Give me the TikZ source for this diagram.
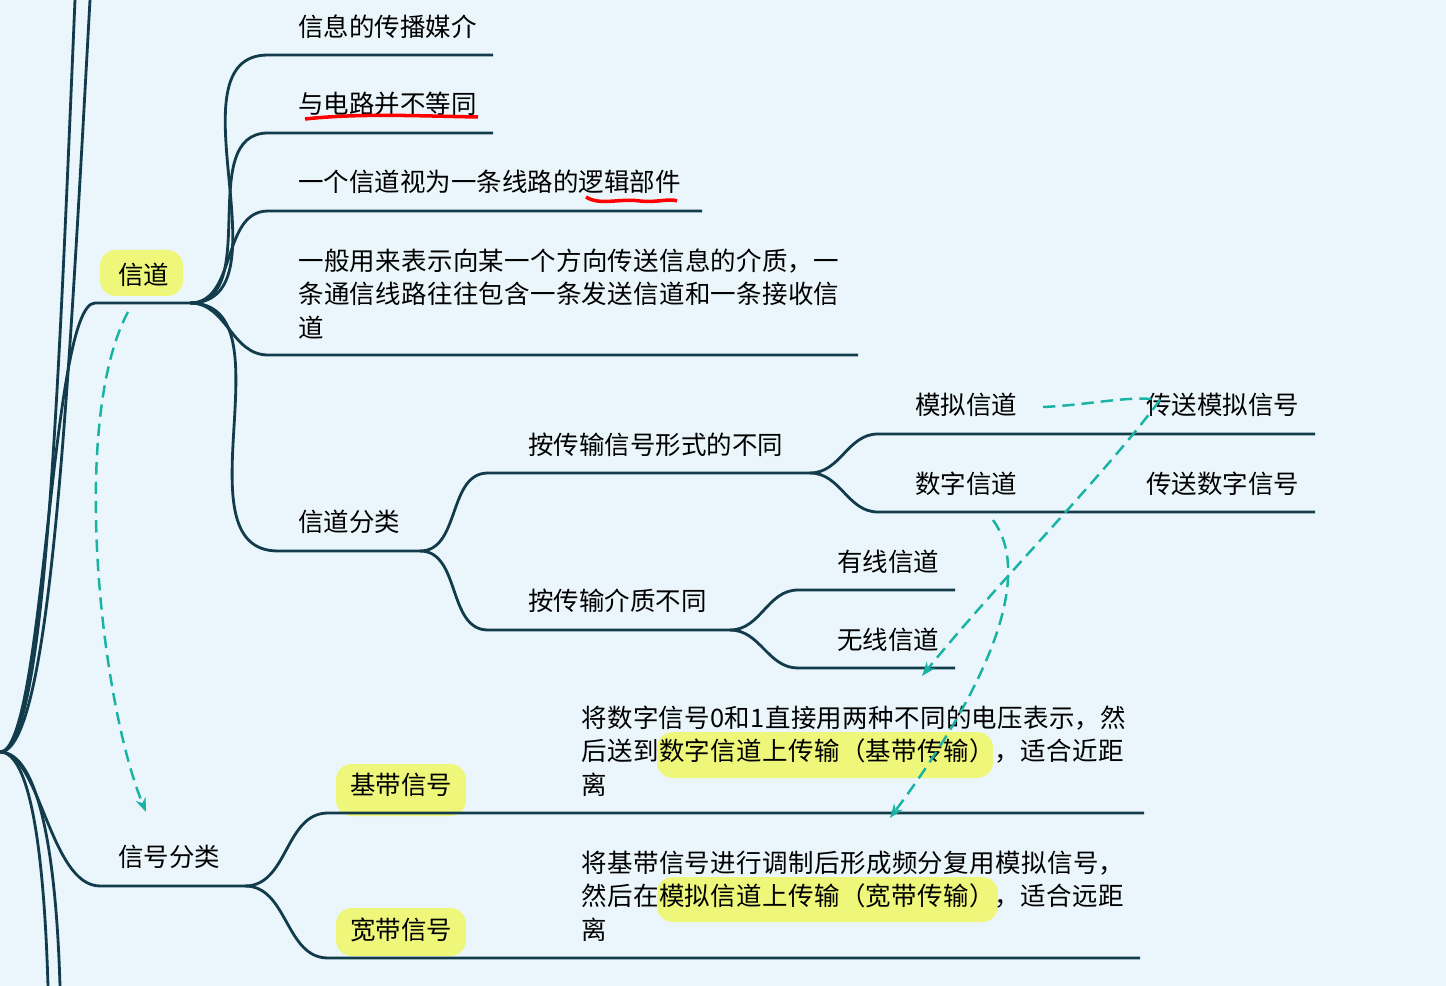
\documentclass[tikz,border=0pt]{standalone}
\usepackage{fontspec}
\setmainfont{Noto Sans CJK SC}
\XeTeXlinebreaklocale "zh"
\XeTeXlinebreakskip = 0pt plus 1pt
\definecolor{bgblue}{HTML}{EAF6FC}
\definecolor{branch}{HTML}{123C4C}
\definecolor{marker}{HTML}{EEF77A}
\definecolor{dashteal}{HTML}{19B3A3}
\usetikzlibrary{arrows.meta}
\tikzset{
  br/.style={branch, line width=1.6pt},
  lbl/.style={anchor=west, inner sep=0pt, font=\fontsize{14.5}{19}\selectfont},
  para/.style={lbl, align=left, text width=#1},
  hl/.style={fill=marker, rounded corners=9pt},
  dashlink/.style={dashteal, line width=1.4pt, dash pattern=on 7pt off 4pt, -{Stealth[length=8pt]}},
}
\begin{document}
\begin{tikzpicture}[x=0.02cm, y=-0.02cm]
  \fill[bgblue] (0,0) rectangle (1446,986);
  \useasboundingbox (0,0) rectangle (1446,986);

  % highlights
  \fill[hl] (100,250) rectangle (183,296);
  \fill[hl] (336,764) rectangle (466,816);
  \fill[hl] (336,908) rectangle (466,956);
  \fill[hl] (657,732) rectangle (993,778);
  \fill[hl] (657,877) rectangle (998,922);

  % root
  \coordinate (root) at (0,752);
  \coordinate (topA) at (75,0);
  \coordinate (topB) at (90,0);
  \coordinate (botA) at (48,986);
  \coordinate (botB) at (60,986);
  \draw[br] (root) .. controls (45,752) and (58,400) .. (topA);
  \draw[br] (root) .. controls (50,752) and (68,400) .. (topB);
  \draw[br] (root) .. controls (30,752) and (44,850) .. (botA);
  \draw[br] (root) .. controls (38,752) and (56,850) .. (botB);

  % channel
  \coordinate (ch0) at (95,303);
  \coordinate (ch1) at (190,303);
  \node[lbl] (ch) at (118,275) {信道};
  \draw[br] (root) .. controls (45,752) and (50,303) .. (ch0) -- (ch1);

  \coordinate (m0) at (268,55);  \coordinate (m1) at (493,55);
  \coordinate (e0) at (268,133); \coordinate (e1) at (493,133);
  \coordinate (l0) at (268,211); \coordinate (l1) at (702,211);
  \coordinate (d0) at (268,355); \coordinate (d1) at (858,355);
  \coordinate (k0) at (278,551); \coordinate (k1) at (420,551);
  \foreach \a/\b in {m0/m1,e0/e1,l0/l1,d0/d1,k0/k1}
    \draw[br] (ch1) to[out=0,in=180] (\a) -- (\b);
  \node[lbl] (media) at (298,27) {信息的传播媒介};
  \node[lbl] (circuit) at (298,104) {与电路并不等同};
  \node[lbl] (logic) at (298,182) {一个信道视为一条线路的逻辑部件};
  \node[para=11cm] (dir) at (298,294) {一般用来表示向某一个方向传送信息的介质，一条通信线路往往包含一条发送信道和一条接收信道};
  \node[lbl] (kind) at (298,522) {信道分类};
  \draw[red, line width=2pt] (305,119) .. controls (360,113) and (420,116) .. (478,117);
  \draw[red, line width=2pt] (586,197) .. controls (600,206) and (620,198) .. (640,201) .. controls (655,203) and (670,198) .. (677,201);

  % by signal form
  \coordinate (s0) at (488,473); \coordinate (s1) at (810,473);
  \coordinate (p0) at (488,630); \coordinate (p1) at (730,630);
  \draw[br] (k1) to[out=0,in=180] (s0) -- (s1);
  \draw[br] (k1) to[out=0,in=180] (p0) -- (p1);
  \node[lbl] (form) at (528,445) {按传输信号形式的不同};
  \node[lbl] (medium) at (528,601) {按传输介质不同};

  \coordinate (a0) at (878,434); \coordinate (a1) at (1315,434);
  \coordinate (g0) at (878,512); \coordinate (g1) at (1315,512);
  \draw[br] (s1) to[out=0,in=180] (a0) -- (a1);
  \draw[br] (s1) to[out=0,in=180] (g0) -- (g1);
  \node[lbl] (analog) at (915,405) {模拟信道};
  \node[lbl] (digital) at (915,484) {数字信道};
  \node[lbl] (anaSig) at (1146,405) {传送模拟信号};
  \node[lbl] (digSig) at (1146,484) {传送数字信号};

  \coordinate (w0) at (798,590); \coordinate (w1) at (955,590);
  \coordinate (x0) at (798,668); \coordinate (x1) at (955,668);
  \draw[br] (p1) to[out=0,in=180] (w0) -- (w1);
  \draw[br] (p1) to[out=0,in=180] (x0) -- (x1);
  \node[lbl] (wired) at (837,562) {有线信道};
  \node[lbl] (wireless) at (837,640) {无线信道};

  % signal classes
  \coordinate (c0) at (100,886); \coordinate (c1) at (245,886);
  \draw[br] (root) .. controls (40,752) and (50,886) .. (c0) -- (c1);
  \node[lbl] (sigkind) at (118,857) {信号分类};
  \coordinate (b0) at (328,813); \coordinate (b1) at (1144,813);
  \coordinate (v0) at (328,958); \coordinate (v1) at (1140,958);
  \draw[br] (c1) to[out=0,in=180] (b0) -- (b1);
  \draw[br] (c1) to[out=0,in=180] (v0) -- (v1);
  \node[lbl] (base) at (350,785) {基带信号};
  \node[lbl] (wide) at (350,930) {宽带信号};
  \node[para=11.1cm] (baseTxt) at (581,751) {将数字信号0和1直接用两种不同的电压表示，然后送到数字信道上传输（基带传输），适合近距离};
  \node[para=11.1cm] (wideTxt) at (581,896) {将基带信号进行调制后形成频分复用模拟信号，然后在模拟信道上传输（宽带传输），适合远距离};

  % dashed links
  \coordinate (d1s) at (128,312); \coordinate (d1e) at (146,812);
  \draw[dashlink] (d1s) .. controls (70,420) and (100,700) .. (d1e);
  \coordinate (d2s) at (1043,407); \coordinate (d2m) at (1160,400);
  \coordinate (d2e) at (922,676);
  \draw[dashteal, line width=1.4pt, dash pattern=on 7pt off 4pt] (d2s) .. controls (1090,405) and (1130,395) .. (d2m);
  \draw[dashlink] (d2m) .. controls (1100,480) and (1000,580) .. (d2e);
  \coordinate (d3s) at (993,520); \coordinate (d3e) at (890,818);
  \draw[dashlink] (d3s) .. controls (1030,570) and (1000,670) .. (d3e);
\end{tikzpicture}
\end{document}
